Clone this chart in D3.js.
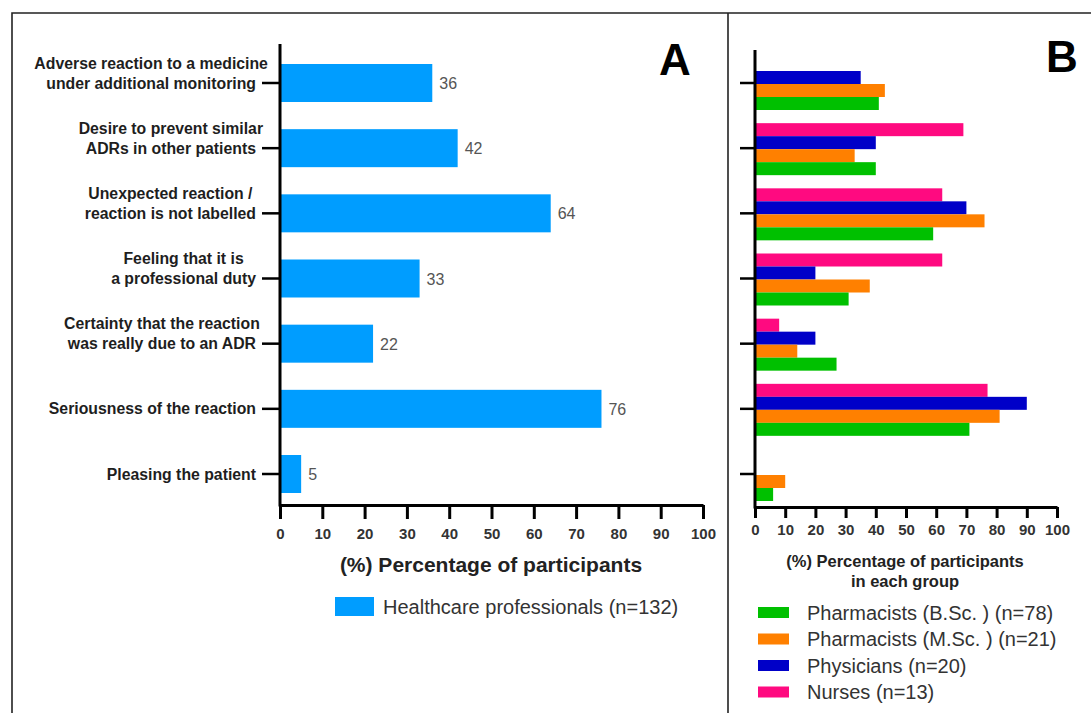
<!DOCTYPE html>
<html>
<head>
<meta charset="utf-8">
<script src="https://cdn.jsdelivr.net/npm/d3@7"></script>
<style>
  html, body { margin: 0; padding: 0; background: #fff; }
  svg { display: block; font-family: "Liberation Sans", Arial, sans-serif; }
</style>
</head>
<body>
<svg id="chart" width="1091" height="713"></svg>
<script>
// Reasons for reporting adverse drug reactions (one label per category, lines split by "\n")
const reasons = [
  "Adverse reaction to a medicine\nunder additional monitoring",
  "Desire to prevent similar\nADRs in other patients",
  "Unexpected reaction /\nreaction is not labelled",
  "Feeling that it is\na professional duty",
  "Certainty that the reaction\nwas really due to an ADR",
  "Seriousness of the reaction",
  "Pleasing the patient"
];

// Panel A: all healthcare professionals (%)
const allProfessionals = [36, 42, 64, 33, 22, 76, 5];

// Panel B: per professional group (%)
const groups = ["Nurses (n=13)", "Physicians (n=20)", "Pharmacists (M.Sc. ) (n=21)", "Pharmacists (B.Sc. ) (n=78)"];
const nurses       = [0, 69, 62, 62, 8, 77, 0];
const physicians   = [35, 40, 70, 20, 20, 90, 0];
const pharmMSc     = [43, 33, 76, 38, 14, 81, 10];
const pharmBSc     = [41, 40, 59, 31, 27, 71, 6];
const groupValues  = [nurses, physicians, pharmMSc, pharmBSc];

const legendOrder = [3, 2, 1, 0];          // legend lists B.Sc., M.Sc., Physicians, Nurses
const groupColors = ["#ff0a80", "#0000c8", "#ff8000", "#00c000"];
const xTicks = [0, 10, 20, 30, 40, 50, 60, 70, 80, 90, 100];

const svg = d3.select("#chart");
svg.append("rect").attr("width", 1091).attr("height", 713).attr("fill", "#fff");

// frame around the two panels
svg.append("path").attr("d", "M12,713V13H1091").attr("fill", "none").attr("stroke", "#222").attr("stroke-width", 1.6);
svg.append("line").attr("x1", 728).attr("x2", 728).attr("y1", 13).attr("y2", 713).attr("stroke", "#222").attr("stroke-width", 1.6);

// shared category positions
const y = d3.scalePoint().domain(d3.range(reasons.length)).range([83, 474]);

function xAxis(g, x, yPos, tickLen, labelY) {
  const axis = d3.axisBottom(x).tickValues(xTicks).tickSize(tickLen).tickSizeOuter(0).tickPadding(0);
  const a = g.append("g").attr("transform", `translate(0,${yPos})`).call(axis);
  a.select(".domain").attr("stroke", "#000").attr("stroke-width", 3);
  a.selectAll(".tick line").attr("stroke", "#000").attr("stroke-width", 3);
  a.selectAll(".tick text")
    .attr("y", labelY).attr("dy", null)
    .attr("font-size", 15).attr("font-weight", "bold").attr("fill", "#333")
    .attr("font-family", "'Liberation Sans', Arial, sans-serif");
  return a;
}

// ---------------- Panel A ----------------
const gA = svg.append("g");
const xA = d3.scaleLinear().domain([0, 100]).range([280, 703]);
const barH = 38;

gA.selectAll("rect.bar").data(allProfessionals).join("rect")
  .attr("class", "bar")
  .attr("x", xA(0))
  .attr("y", (d, i) => y(i) - barH / 2)
  .attr("width", d => xA(d) - xA(0))
  .attr("height", barH)
  .attr("fill", "#009dff");

gA.selectAll("text.val").data(allProfessionals).join("text")
  .attr("class", "val")
  .attr("x", d => xA(d) + 7)
  .attr("y", (d, i) => y(i) + 6)
  .attr("font-size", 16).attr("fill", "#555")
  .text(d => d);

xAxis(gA, xA, 505, 14, 34);

// category axis
gA.append("line").attr("x1", 280).attr("x2", 280).attr("y1", 44).attr("y2", 506.5)
  .attr("stroke", "#000").attr("stroke-width", 3);
gA.selectAll("line.ytick").data(reasons).join("line")
  .attr("class", "ytick")
  .attr("x1", 262).attr("x2", 280)
  .attr("y1", (d, i) => y(i)).attr("y2", (d, i) => y(i))
  .attr("stroke", "#000").attr("stroke-width", 2.5);

// multi-line category labels, each line centred on the line beside the tick
reasons.forEach((label, i) => {
  const lines = label.split("\n");
  const g = gA.append("g");
  const texts = lines.map((ln, k) => g.append("text")
    .attr("y", y(i) + 5.5 - (lines.length - 1 - k) * 20)
    .attr("font-size", 15.8).attr("font-weight", "bold").attr("fill", "#1e1e1e")
    .attr("text-anchor", "middle")
    .text(ln));
  const wLast = texts[texts.length - 1].node().getComputedTextLength();
  const cx = 256 - wLast / 2;
  texts.forEach(t => t.attr("x", cx));
});

gA.append("text").attr("x", 491).attr("y", 572)
  .attr("text-anchor", "middle").attr("font-size", 21).attr("font-weight", "bold").attr("fill", "#222")
  .text("(%) Percentage of participants");

gA.append("rect").attr("x", 335).attr("y", 597).attr("width", 39).attr("height", 19).attr("fill", "#009dff");
gA.append("text").attr("x", 383).attr("y", 614).attr("font-size", 20).attr("fill", "#333")
  .text("Healthcare professionals (n=132)");

gA.append("text").attr("x", 675).attr("y", 75).attr("text-anchor", "middle")
  .attr("font-size", 44).attr("font-weight", "bold").attr("fill", "#000").text("A");

// ---------------- Panel B ----------------
const gB = svg.append("g");
const xB = d3.scaleLinear().domain([0, 100]).range([755, 1057]);
const sub = d3.scaleBand().domain(d3.range(groups.length)).range([-25, 27]);

groupValues.forEach((vals, gi) => {
  gB.selectAll(`rect.g${gi}`).data(vals).join("rect")
    .attr("class", `g${gi}`)
    .attr("x", xB(0))
    .attr("y", (d, i) => y(i) + sub(gi))
    .attr("width", d => xB(d) - xB(0))
    .attr("height", sub.bandwidth())
    .attr("fill", groupColors[gi]);
});

xAxis(gB, xB, 507, 11, 28);

gB.append("line").attr("x1", 755).attr("x2", 755).attr("y1", 50).attr("y2", 508.5)
  .attr("stroke", "#000").attr("stroke-width", 3);
gB.selectAll("line.ytick").data(reasons).join("line")
  .attr("class", "ytick")
  .attr("x1", 740).attr("x2", 755)
  .attr("y1", (d, i) => y(i)).attr("y2", (d, i) => y(i))
  .attr("stroke", "#000").attr("stroke-width", 2.5);

const titleB = gB.append("text").attr("text-anchor", "middle")
  .attr("font-size", 16.5).attr("font-weight", "bold").attr("fill", "#222");
titleB.append("tspan").attr("x", 905).attr("y", 567).text("(%) Percentage of participants");
titleB.append("tspan").attr("x", 905).attr("y", 587).text("in each group");

legendOrder.forEach((gi, k) => {
  const yy = 607 + k * 26.5;
  gB.append("rect").attr("x", 758).attr("y", yy).attr("width", 31).attr("height", 11).attr("fill", groupColors[gi]);
  gB.append("text").attr("x", 807).attr("y", yy + 12.5).attr("font-size", 20).attr("fill", "#333").text(groups[gi]);
});

gB.append("text").attr("x", 1062).attr("y", 72).attr("text-anchor", "middle")
  .attr("font-size", 44).attr("font-weight", "bold").attr("fill", "#000").text("B");
</script>
</body>
</html>
